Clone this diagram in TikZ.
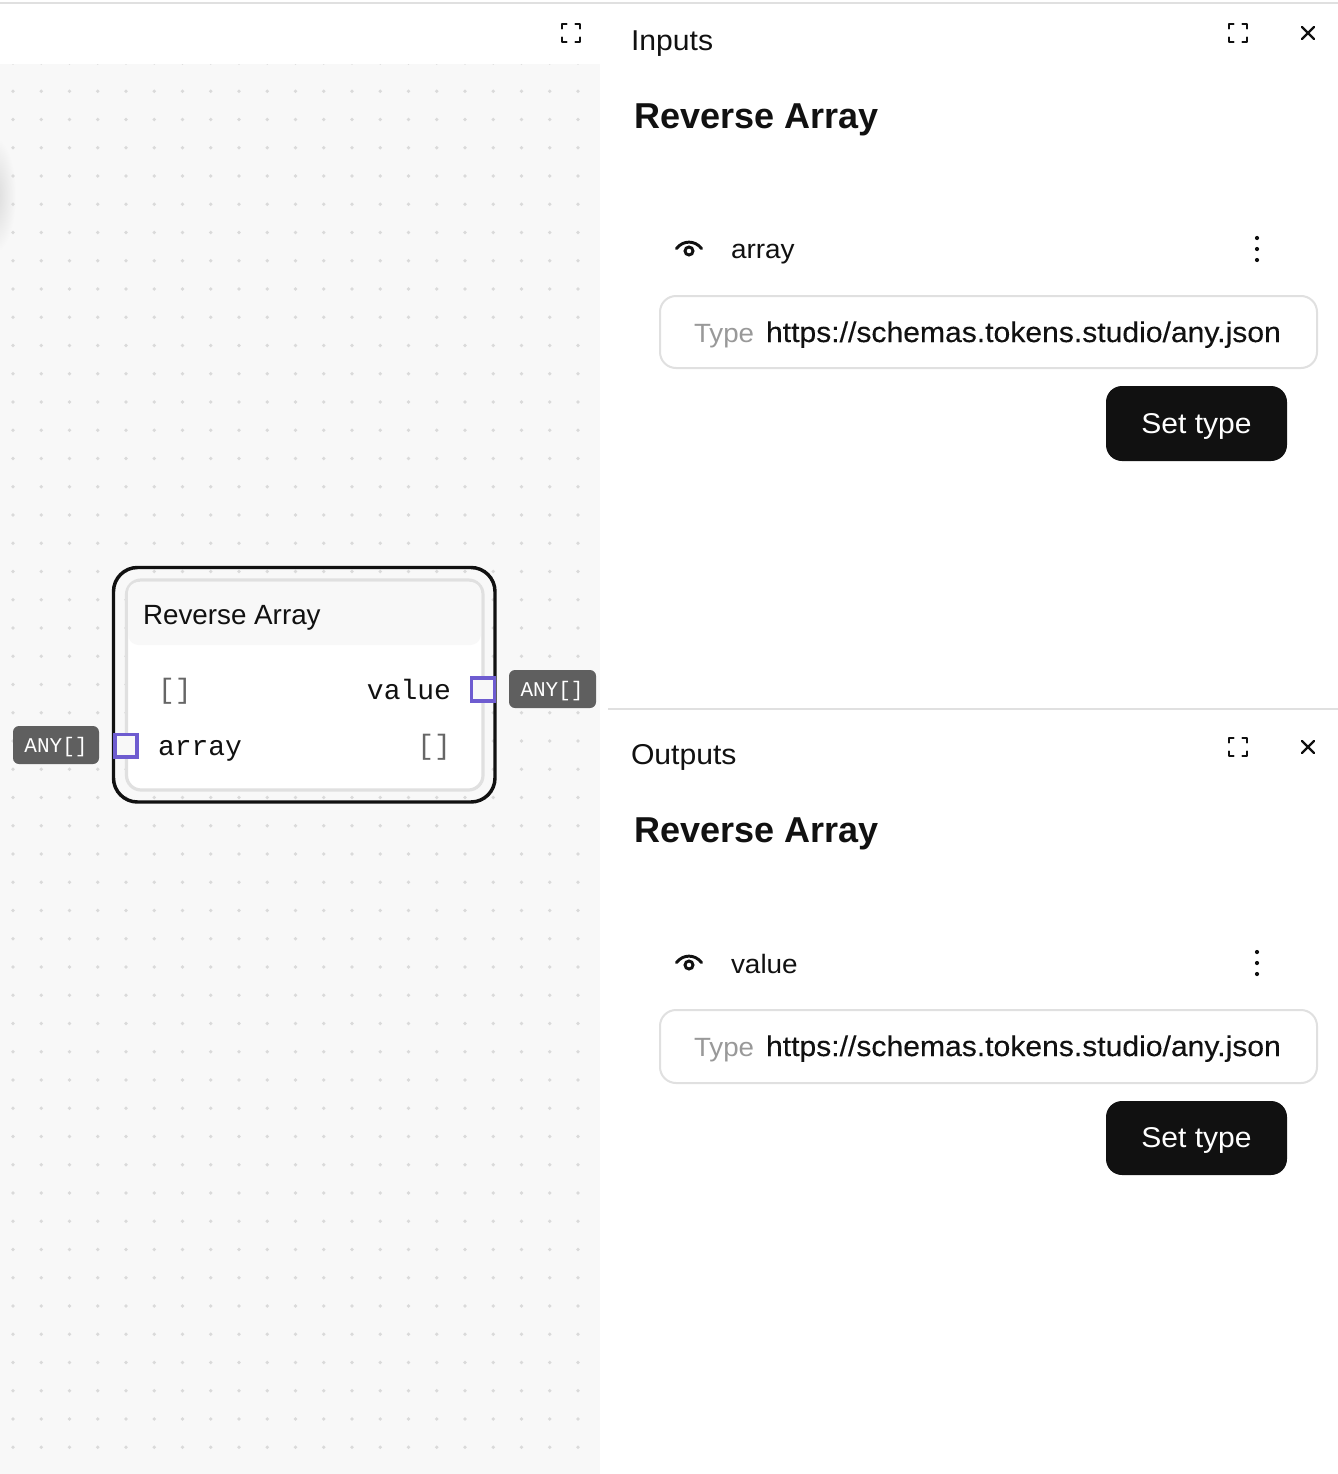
\documentclass[tikz,border=0pt]{standalone}
\usepackage{fontspec}
\setmainfont{Liberation Sans}
\setmonofont{Liberation Mono}
\newfontfamily\uifont[FakeStretch=1.05]{Liberation Sans}
\newfontfamily\urlfont[FakeStretch=1.06,FakeBold=0.25]{Liberation Sans}
\usetikzlibrary{calc}
\definecolor{canvasbg}{HTML}{F8F8F8}
\definecolor{rulegrey}{HTML}{E0E0E0}
\definecolor{dotgrey}{HTML}{DADADA}
\definecolor{shadowgrey}{HTML}{D9D9D9}
\definecolor{inkblack}{HTML}{111111}
\definecolor{portpurple}{HTML}{6E5CD0}
\definecolor{taggrey}{HTML}{5F5F5F}
\definecolor{mutedgrey}{HTML}{666666}
\definecolor{typegrey}{HTML}{999999}
\newcommand{\px}[1]{\fontsize{\dimexpr#1pt*3/4\relax}{\dimexpr#1pt*9/10\relax}\selectfont}
\tikzset{
  x=0.75pt,y=-0.75pt,
  txt/.style={inner sep=0pt,outer sep=0pt,anchor=base west,text=inkblack},
  paneltitle/.style={txt,font=\uifont\px{28.7}},
  heading/.style={txt,font=\px{36}\bfseries},
  fieldlabel/.style={txt,font=\uifont\px{26.6}},
  urltext/.style={txt,font=\urlfont\px{28.4}},
  typelabel/.style={txt,font=\uifont\px{26.4},text=typegrey},
  nodetitle/.style={txt,font=\px{27.8}},
  monotext/.style={txt,font=\ttfamily\px{28}},
  monomuted/.style={monotext,text=mutedgrey},
  tagtext/.style={inner sep=0pt,outer sep=0pt,anchor=base,text=white,font=\ttfamily\px{21}},
  btnshape/.style={draw=none,fill=inkblack,rounded corners=12pt},
  btntext/.style={txt,anchor=base,text=white,font=\uifont\px{28.6}},
  fieldbox/.style={draw=rulegrey,line width=1.5pt,fill=white,rounded corners=12pt},
  port/.style={draw=portpurple,line width=2.4pt,fill=canvasbg},
  tagbox/.style={fill=taggrey,rounded corners=4.5pt,draw=none},
  iconline/.style={draw=inkblack,line width=1.8pt,line cap=round,line join=round},
  expandicon/.pic={
    \draw[iconline] (-9,-4.5) -- (-9,-9) -- (-4.5,-9);
    \draw[iconline] (4.5,-9) -- (9,-9) -- (9,-4.5);
    \draw[iconline] (-9,4.5) -- (-9,9) -- (-4.5,9);
    \draw[iconline] (4.5,9) -- (9,9) -- (9,4.5);
  },
  closeicon/.pic={
    \draw[iconline] (-6,-6) -- (6,6);
    \draw[iconline] (6,-6) -- (-6,6);
  },
  eyeicon/.pic={
    \draw[draw=inkblack,line width=2.2pt,line cap=round] (-12.5,-0.5) .. controls (-6,-9) and (6,-9) .. (12.5,-0.5);
    \draw[draw=inkblack,line width=2.2pt] (0,2) circle (4);
  },
  kebab/.pic={
    \fill[inkblack] (0,-11) circle (2.1) (0,0) circle (2.1) (0,11) circle (2.1);
  },
}
\begin{document}
\begin{tikzpicture}
\useasboundingbox (0,0) rectangle (1338,1474);
\fill[white] (0,0) rectangle (1338,1474);
% canvas
\fill[canvasbg] (0,64) rectangle (600,1474);
\begin{scope}
\clip (0,64) rectangle (600,1474);
\shade[inner color=shadowgrey,outer color=canvasbg,draw=none] (-6,195) ellipse [x radius=22,y radius=58];
\foreach \i in {0,...,20}{
  \foreach \j in {0,...,49}{
    \fill[dotgrey] ({13+28.25*\i},{63+28.25*\j}) circle (1.8);
  }
}
\end{scope}
% frame lines
\draw[rulegrey,line width=1.5pt] (0,3) -- (1338,3);
\draw[rulegrey,line width=1.5pt] (608,709) -- (1338,709);
% left panel icon
\pic at (571,33) {expandicon};
% graph node
\draw[inkblack,line width=2.6pt,rounded corners=18pt] (113.5,567.5) rectangle (495,802);
\draw[rulegrey,line width=2.4pt,fill=white,rounded corners=11pt] (126.5,580) rectangle (483,790);
\fill[canvasbg,rounded corners=8pt] (128,582) rectangle (481,645);
\node[nodetitle] (nodeTitle) at (143,624) {Reverse Array};
\node[monomuted] (leftType) at (158,698) {[]};
\node[monotext,anchor=base east] (valueLabel) at (451,699) {value};
\node[monotext] (arrayLabel) at (158,755) {array};
\node[monomuted,anchor=base east] (rightType) at (451,754) {[]};
\draw[port] (471.5,678) rectangle (494.5,701);
\draw[port] (115,734.5) rectangle (137,757);
\fill[tagbox] (509,670) rectangle (596,708);
\node[tagtext] (tagOut) at (552,696) {ANY[]};
\fill[tagbox] (13,726) rectangle (99,764);
\node[tagtext] (tagIn) at (56,752) {ANY[]};
% Inputs panel
\node[paneltitle] (inTitle) at (631,50) {Inputs};
\pic at (1238,33) {expandicon};
\pic at (1308,33) {closeicon};
\node[heading] (inHead) at (634,128) {Reverse Array};
\pic at (689,249) {eyeicon};
\node[fieldlabel] (inField) at (731,258) {array};
\pic at (1257,249) {kebab};
\draw[fieldbox] (660,296) rectangle (1317,368);
\node[typelabel] (inType) at (694,342) {Type};
\node[urltext] (inUrl) at (766,342) {https://schemas.tokens.studio/any.json};
\fill[btnshape] (1106,386) rectangle (1287,461);
\node[btntext] (inBtn) at (1196.5,433) {Set type};
% Outputs panel
\node[paneltitle] (outTitle) at (631,764) {Outputs};
\pic at (1238,747) {expandicon};
\pic at (1308,747) {closeicon};
\node[heading] (outHead) at (634,842) {Reverse Array};
\pic at (689,963) {eyeicon};
\node[fieldlabel] (outField) at (731,973) {value};
\pic at (1257,963) {kebab};
\draw[fieldbox] (660,1010) rectangle (1317,1083);
\node[typelabel] (outType) at (694,1056) {Type};
\node[urltext] (outUrl) at (766,1056) {https://schemas.tokens.studio/any.json};
\fill[btnshape] (1106,1101) rectangle (1287,1175);
\node[btntext] (outBtn) at (1196.5,1147) {Set type};
\end{tikzpicture}
\end{document}
